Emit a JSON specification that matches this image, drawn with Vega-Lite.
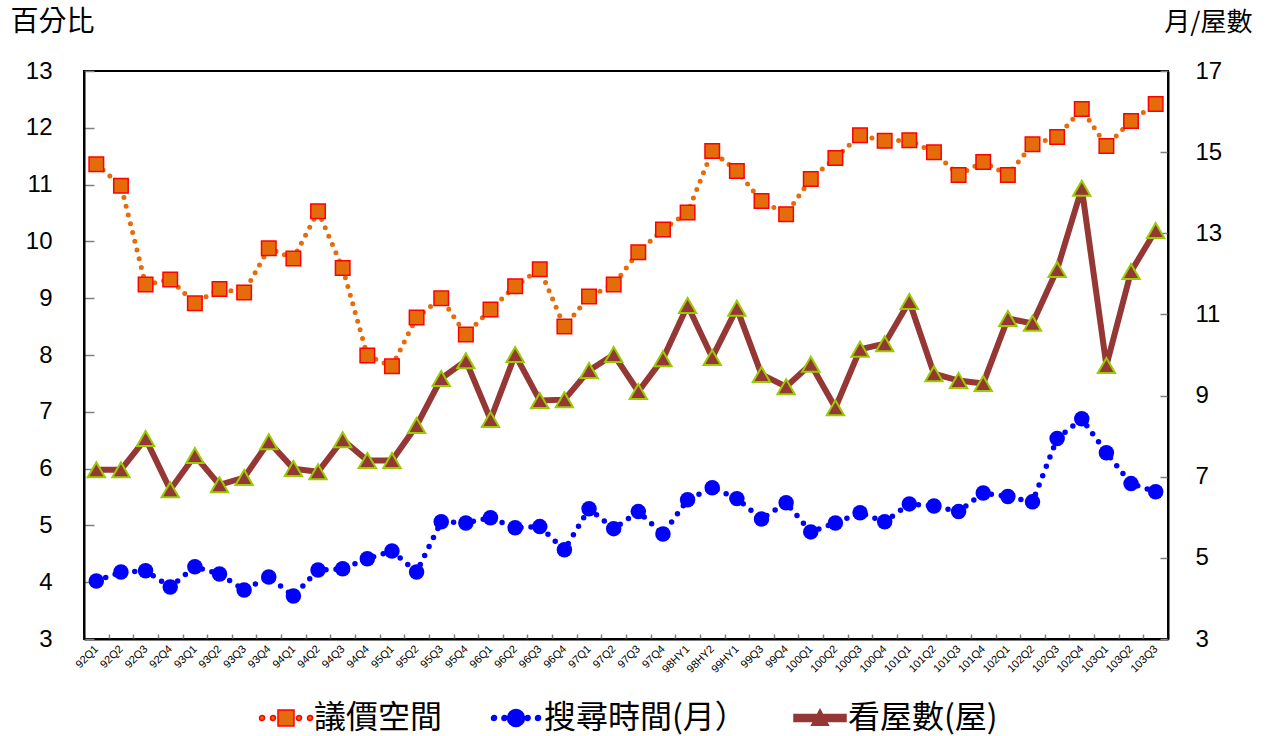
{
  "$schema": "https://vega.github.io/schema/vega-lite/v6.json",
  "width": 1084,
  "height": 568,
  "autosize": "none",
  "padding": {"left": 84, "top": 71, "right": 97, "bottom": 97},
  "background": "white",
  "config": {
    "view": {"stroke": "black", "strokeWidth": 2},
    "axis": {
      "grid": false,
      "domainColor": "black",
      "domainWidth": 2,
      "tickColor": "#808080",
      "tickWidth": 1.5,
      "labelColor": "black",
      "labelFont": "Liberation Sans Narrow, Arial Narrow, Liberation Sans, sans-serif"
    },
    "legend": {
      "orient": "none",
      "legendX": 160,
      "legendY": 631,
      "direction": "horizontal",
      "symbolSize": 64,
      "symbolStrokeWidth": 1.5,
      "symbolOffset": 26,
      "labelOffset": 12,
      "labelFont": "Noto Sans CJK TC",
      "labelFontSize": 32,
      "labelColor": "black",
      "labelLimit": 400,
      "columnPadding": 31,
      "padding": 0
    }
  },
  "data": {
    "values": [
      {"q": "92Q1", "b": 11.36, "s": 4.43, "v": 7.17},
      {"q": "92Q2", "b": 10.98, "s": 4.65, "v": 7.17},
      {"q": "92Q3", "b": 9.24, "s": 4.68, "v": 7.94},
      {"q": "92Q4", "b": 9.33, "s": 4.28, "v": 6.68},
      {"q": "93Q1", "b": 8.91, "s": 4.78, "v": 7.52},
      {"q": "93Q2", "b": 9.16, "s": 4.60, "v": 6.80},
      {"q": "93Q3", "b": 9.10, "s": 4.21, "v": 6.98},
      {"q": "93Q4", "b": 9.88, "s": 4.53, "v": 7.86},
      {"q": "94Q1", "b": 9.70, "s": 4.06, "v": 7.20},
      {"q": "94Q2", "b": 10.53, "s": 4.70, "v": 7.12},
      {"q": "94Q3", "b": 9.53, "s": 4.73, "v": 7.91},
      {"q": "94Q4", "b": 7.99, "s": 4.98, "v": 7.40},
      {"q": "95Q1", "b": 7.80, "s": 5.17, "v": 7.40},
      {"q": "95Q2", "b": 8.66, "s": 4.65, "v": 8.26},
      {"q": "95Q3", "b": 9.00, "s": 5.89, "v": 9.42},
      {"q": "95Q4", "b": 8.36, "s": 5.86, "v": 9.86},
      {"q": "96Q1", "b": 8.80, "s": 5.99, "v": 8.41},
      {"q": "96Q2", "b": 9.21, "s": 5.74, "v": 10.01},
      {"q": "96Q3", "b": 9.51, "s": 5.77, "v": 8.88},
      {"q": "96Q4", "b": 8.50, "s": 5.20, "v": 8.90},
      {"q": "97Q1", "b": 9.03, "s": 6.21, "v": 9.62},
      {"q": "97Q2", "b": 9.24, "s": 5.72, "v": 10.01},
      {"q": "97Q3", "b": 9.81, "s": 6.14, "v": 9.10},
      {"q": "97Q4", "b": 10.21, "s": 5.59, "v": 9.91},
      {"q": "98HY1", "b": 10.51, "s": 6.43, "v": 11.22},
      {"q": "98HY2", "b": 11.59, "s": 6.73, "v": 9.94},
      {"q": "99HY1", "b": 11.24, "s": 6.46, "v": 11.15},
      {"q": "99Q3", "b": 10.71, "s": 5.96, "v": 9.52},
      {"q": "99Q4", "b": 10.48, "s": 6.36, "v": 9.22},
      {"q": "100Q1", "b": 11.10, "s": 5.64, "v": 9.77},
      {"q": "100Q2", "b": 11.47, "s": 5.86, "v": 8.70},
      {"q": "100Q3", "b": 11.87, "s": 6.11, "v": 10.14},
      {"q": "100Q4", "b": 11.77, "s": 5.89, "v": 10.28},
      {"q": "101Q1", "b": 11.78, "s": 6.33, "v": 11.32},
      {"q": "101Q2", "b": 11.57, "s": 6.28, "v": 9.54},
      {"q": "101Q3", "b": 11.17, "s": 6.14, "v": 9.37},
      {"q": "101Q4", "b": 11.40, "s": 6.60, "v": 9.30},
      {"q": "102Q1", "b": 11.17, "s": 6.51, "v": 10.90},
      {"q": "102Q2", "b": 11.71, "s": 6.38, "v": 10.78},
      {"q": "102Q3", "b": 11.84, "s": 7.94, "v": 12.11},
      {"q": "102Q4", "b": 12.33, "s": 8.43, "v": 14.11},
      {"q": "103Q1", "b": 11.68, "s": 7.59, "v": 9.74},
      {"q": "103Q2", "b": 12.12, "s": 6.83, "v": 12.06},
      {"q": "103Q3", "b": 12.42, "s": 6.63, "v": 13.07}
    ]
  },
  "encoding": {
    "x": {
      "field": "q",
      "type": "ordinal",
      "sort": null,
      "bandPosition": 0.5,
      "scale": {"type": "band", "paddingInner": 0, "paddingOuter": 0},
      "axis": {
        "title": null,
        "labelAngle": -45,
        "labelAlign": "right",
        "labelBaseline": "middle",
        "labelFontSize": 11,
        "labelPadding": 13,
        "tickBand": "extent",
        "tickSize": -5,
        "labelOverlap": false
      }
    }
  },
  "layer": [
    {
      "encoding": {
        "y": {
          "field": "b",
          "type": "quantitative",
          "scale": {"domain": [3, 13], "nice": false, "zero": false},
          "axis": {
            "orient": "left",
            "values": [3, 4, 5, 6, 7, 8, 9, 10, 11, 12, 13],
            "tickSize": -10,
            "labelPadding": 42,
            "labelFontSize": 24,
            "title": "百分比",
            "titleAngle": 0,
            "titleAlign": "left",
            "titleBaseline": "middle",
            "titleX": -74,
            "titleY": -49,
            "titleFont": "Noto Sans CJK TC",
            "titleFontSize": 28,
            "titleFontWeight": "normal",
            "titleColor": "black"
          }
        }
      },
      "layer": [
        {
          "mark": {"type": "line", "color": "#E46C0A", "strokeWidth": 5, "strokeDash": [0, 9], "strokeCap": "round"}
        },
        {
          "mark": {"type": "point", "shape": "square", "filled": true, "fill": "#E46C0A", "stroke": "#FF0000", "strokeWidth": 1.5, "size": 210, "opacity": 1}
        },
        {
          "transform": [{"filter": "false"}],
          "mark": {"type": "point", "filled": true, "size": 64, "opacity": 1},
          "encoding": {
            "fill": {
              "field": "series",
              "type": "nominal",
              "scale": {"domain": ["議價空間", "搜尋時間(月）", "看屋數(屋)"], "range": ["#E46C0A", "#0000FF", "#953735"]},
              "legend": {"title": null, "orient": "none", "legendX": 160, "legendY": 631, "direction": "horizontal"}
            },
            "stroke": {
              "field": "series",
              "type": "nominal",
              "scale": {"domain": ["議價空間", "搜尋時間(月）", "看屋數(屋)"], "range": ["#FF0000", "#0000FF", "#953735"]},
              "legend": {"title": null}
            },
            "shape": {
              "field": "series",
              "type": "nominal",
              "scale": {
                "domain": ["議價空間", "搜尋時間(月）", "看屋數(屋)"],
                "range": [
                  "M-5.375,0C-5.375,0.345 -5.655,0.625 -6,0.625C-6.345,0.625 -6.625,0.345 -6.625,0C-6.625,-0.345 -6.345,-0.625 -6,-0.625C-5.655,-0.625 -5.375,-0.345 -5.375,0Z M-2.625,0C-2.625,0.345 -2.905,0.625 -3.25,0.625C-3.595,0.625 -3.875,0.345 -3.875,0C-3.875,-0.345 -3.595,-0.625 -3.25,-0.625C-2.905,-0.625 -2.625,-0.345 -2.625,0Z M3.875,0C3.875,0.345 3.595,0.625 3.25,0.625C2.905,0.625 2.625,0.345 2.625,0C2.625,-0.345 2.905,-0.625 3.25,-0.625C3.595,-0.625 3.875,-0.345 3.875,0Z M6.625,0C6.625,0.345 6.345,0.625 6,0.625C5.655,0.625 5.375,0.345 5.375,0C5.375,-0.345 5.655,-0.625 6,-0.625C6.345,-0.625 6.625,-0.345 6.625,0Z M-2,-2H2V2H-2Z",
                  "M-4.875,0C-4.875,0.345 -5.155,0.625 -5.5,0.625C-5.845,0.625 -6.125,0.345 -6.125,0C-6.125,-0.345 -5.845,-0.625 -5.5,-0.625C-5.155,-0.625 -4.875,-0.345 -4.875,0Z M-2.275,0C-2.275,0.345 -2.555,0.625 -2.9,0.625C-3.245,0.625 -3.525,0.345 -3.525,0C-3.525,-0.345 -3.245,-0.625 -2.9,-0.625C-2.555,-0.625 -2.275,-0.345 -2.275,0Z M3.525,0C3.525,0.345 3.245,0.625 2.9,0.625C2.555,0.625 2.275,0.345 2.275,0C2.275,-0.345 2.555,-0.625 2.9,-0.625C3.245,-0.625 3.525,-0.345 3.525,0Z M6.125,0C6.125,0.345 5.845,0.625 5.5,0.625C5.155,0.625 4.875,0.345 4.875,0C4.875,-0.345 5.155,-0.625 5.5,-0.625C5.845,-0.625 6.125,-0.345 6.125,0Z M2.125,0C2.125,1.1737 1.1737,2.125 0,2.125C-1.1737,2.125 -2.125,1.1737 -2.125,0C-2.125,-1.1737 -1.1737,-2.125 0,-2.125C1.1737,-2.125 2.125,-1.1737 2.125,0Z",
                  "M-6.5,-0.875H-1V0.875H-6.5Z M1,-0.875H6.5V0.875H1Z M0,-2.1L2.1,1.8H-2.1Z"
                ]
              },
              "legend": {"title": null}
            }
          }
        }
      ]
    },
    {
      "layer": [
        {
          "mark": {"type": "line", "color": "#0000FF", "strokeWidth": 5.5, "strokeDash": [0, 10], "strokeCap": "round"},
          "encoding": {
            "y": {
              "field": "s",
              "type": "quantitative",
              "scale": {"domain": [3, 17], "nice": false, "zero": false},
              "axis": {
                "orient": "right",
                "values": [3, 5, 7, 9, 11, 13, 15, 17],
                "tickSize": -8,
                "labelPadding": 35,
                "labelFontSize": 24,
                "title": "月/屋數",
                "titleAngle": 0,
                "titleAlign": "right",
                "titleBaseline": "middle",
                "titleX": 84,
                "titleY": -49,
                "titleFont": "Noto Sans CJK TC",
                "titleFontSize": 26,
                "titleFontWeight": "normal",
                "titleColor": "black"
              }
            }
          }
        },
        {
          "mark": {"type": "point", "shape": "circle", "filled": true, "fill": "#0000FF", "strokeWidth": 0, "size": 240, "opacity": 1},
          "encoding": {"y": {"field": "s", "type": "quantitative"}}
        },
        {
          "mark": {"type": "line", "color": "#953735", "strokeWidth": 6},
          "encoding": {"y": {"field": "v", "type": "quantitative"}}
        },
        {
          "mark": {"type": "point", "shape": "triangle-up", "filled": true, "fill": "#953735", "stroke": "#99CC00", "strokeWidth": 2, "size": 300, "opacity": 1},
          "encoding": {"y": {"field": "v", "type": "quantitative"}}
        }
      ]
    }
  ],
  "resolve": {"scale": {"y": "independent"}}
}
